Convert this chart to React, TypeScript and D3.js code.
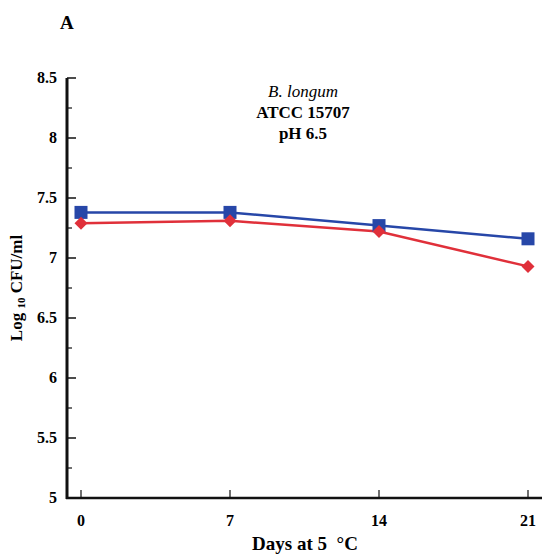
import React from "react";
import * as d3 from "d3";

const days = [0, 7, 14, 21];
const blueSeries = [7.38, 7.38, 7.27, 7.16];
const redSeries = [7.29, 7.31, 7.22, 6.93];
const yTicks = [5, 5.5, 6, 6.5, 7, 7.5, 8, 8.5];
const yMinor = [5.25, 5.75, 6.25, 6.75, 7.25, 7.75, 8.25];
const annotation = ["B. longum", "ATCC 15707", "pH 6.5"];

const W = 544, H = 560;
const x = d3.scaleLinear().domain([0, 21]).range([81, 528]);
const y = d3.scaleLinear().domain([5, 8.5]).range([498, 78]);
const axisX0 = 67, axisX1 = 542;
const font = "'Liberation Serif', 'DejaVu Serif', serif";

export default function App() {
  const line = d3.line<number>().x((_, i) => x(days[i])).y((d) => y(d));
  return (
    <svg width={W} height={H} style={{ position: "absolute", left: 0, top: 0, background: "#fff" }} fontFamily={font}>
      <text x={60} y={29} fontSize={19} fontWeight="bold">A</text>
      {/* axes */}
      <line x1={axisX0} x2={axisX0} y1={y(8.5)} y2={y(5) + 1} stroke="#111" strokeWidth={3} />
      <line x1={axisX0 - 1} x2={axisX1} y1={y(5)} y2={y(5)} stroke="#111" strokeWidth={2.5} />
      {yTicks.map((t) => (
        <g key={t}>
          <line x1={axisX0} x2={axisX0 + 9} y1={y(t)} y2={y(t)} stroke="#111" strokeWidth={1.5} />
          <text x={57} y={y(t) + 5} textAnchor="end" fontSize={16} fontWeight="bold">{t}</text>
        </g>
      ))}
      {yMinor.map((t) => (
        <line key={t} x1={axisX0} x2={axisX0 + 5} y1={y(t)} y2={y(t)} stroke="#111" strokeWidth={1.2} />
      ))}
      {days.map((d) => (
        <g key={d}>
          <line x1={x(d)} x2={x(d)} y1={y(5)} y2={y(5) - 8} stroke="#111" strokeWidth={1.2} />
          <text x={x(d)} y={526} textAnchor="middle" fontSize={16} fontWeight="bold">{d}</text>
        </g>
      ))}
      <text x={305} y={550} textAnchor="middle" fontSize={19} fontWeight="bold">Days at 5&#160;&#160;&#176;C</text>
      <text transform={`translate(22,${288}) rotate(-90)`} textAnchor="middle" fontSize={17} fontWeight="bold">
        Log <tspan fontSize={11} dy={3}>10</tspan><tspan dy={-3}> CFU/ml</tspan>
      </text>
      {/* annotation */}
      <text x={303} y={97} textAnchor="middle" fontSize={17} fontStyle="italic">{annotation[0]}</text>
      <text x={303} y={118} textAnchor="middle" fontSize={17} fontWeight="bold">{annotation[1]}</text>
      <text x={303} y={139} textAnchor="middle" fontSize={17} fontWeight="bold">{annotation[2]}</text>
      {/* series */}
      <path d={line(blueSeries) || ""} fill="none" stroke="#2747a8" strokeWidth={2.5} />
      <path d={line(redSeries) || ""} fill="none" stroke="#e0303a" strokeWidth={2.5} />
      {blueSeries.map((v, i) => (
        <rect key={i} x={x(days[i]) - 6.5} y={y(v) - 6.5} width={13} height={13} fill="#2747a8" />
      ))}
      {redSeries.map((v, i) => (
        <path key={i} d={`M${x(days[i])},${y(v) - 6.5}L${x(days[i]) + 6.5},${y(v)}L${x(days[i])},${y(v) + 6.5}L${x(days[i]) - 6.5},${y(v)}Z`} fill="#e0303a" />
      ))}
    </svg>
  );
}
